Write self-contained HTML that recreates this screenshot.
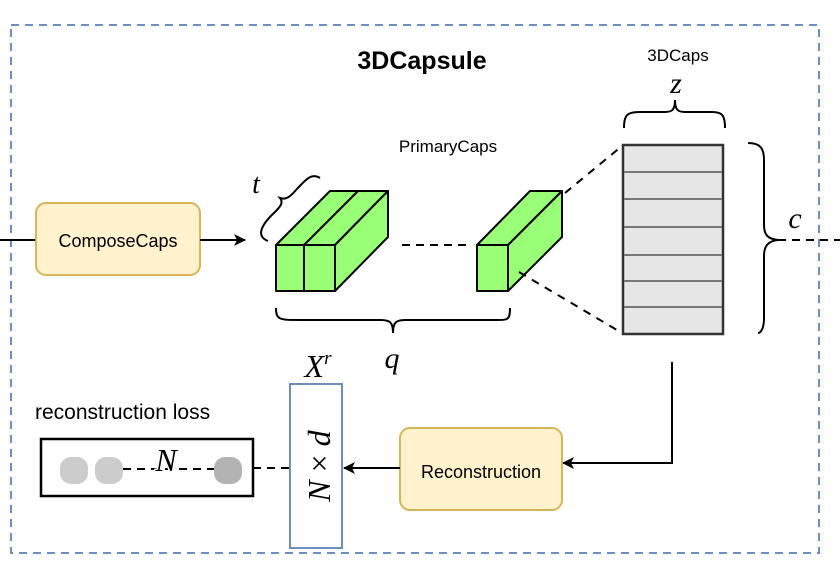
<!DOCTYPE html>
<html><head><style>body{margin:0;background:#fff}svg{display:block}</style></head><body>
<svg width="840" height="574" viewBox="0 0 840 574" xmlns="http://www.w3.org/2000/svg" font-family="Liberation Sans, sans-serif">
<defs><marker id="a" markerWidth="12" markerHeight="12" refX="11" refY="6" orient="auto" markerUnits="userSpaceOnUse"><path d="M0,0 L12,6 L0,12 L3,6 Z" fill="#000"/></marker></defs>
<rect x="11" y="25" width="808" height="528" fill="none" stroke="#6c8ebf" stroke-width="2" stroke-dasharray="8,6"/>
<text x="422" y="69" font-size="25" font-weight="bold" text-anchor="middle">3DCapsule</text>
<line x1="0" y1="240" x2="36" y2="240" stroke="#000" stroke-width="2"/>
<rect x="36" y="203" width="164" height="72" rx="10" fill="#fff2cc" stroke="#d6b656" stroke-width="2"/>
<text x="118" y="247" font-size="18" text-anchor="middle">ComposeCaps</text>
<line x1="200" y1="240" x2="245" y2="240" stroke="#000" stroke-width="2" marker-end="url(#a)"/>
<g fill="#99ff77" stroke="#000" stroke-width="2" stroke-linejoin="round">
<path d="M276,245 L330,191 L388,191 L335,245 Z"/>
<line x1="304" y1="245" x2="358" y2="191"/>
<path d="M335,245 L388,191 L388,237 L335,291 Z"/>
<rect x="276" y="245" width="28" height="46"/>
<rect x="304" y="245" width="31" height="46"/>
<path d="M477,245 L530,191 L562,191 L508,245 Z"/>
<path d="M508,245 L562,191 L562,237 L508,291 Z"/>
<rect x="477" y="245" width="31" height="46"/>
</g>
<line x1="402" y1="245" x2="470" y2="245" stroke="#000" stroke-width="2" stroke-dasharray="8,6"/>
<text x="448" y="152" font-size="17" text-anchor="middle">PrimaryCaps</text>
<path d="M268,241 C255,236 262,224 275,212 C282,205 283,202 280,198 C286,200 290,197 296,190 C307,178 312,173 320,178" fill="none" stroke="#000" stroke-width="2"/>
<text x="256" y="193" font-size="28" font-style="italic" font-family="Liberation Serif, serif" text-anchor="middle">t</text>
<path d="M276,308 C276,320 280,320 300,320 L380,320 C390,320 393,322 393,333 C393,322 396,320 406,320 L496,320 C508,320 510,320 510,308" fill="none" stroke="#000" stroke-width="2"/>
<text x="392" y="368" font-size="30" font-style="italic" font-family="Liberation Serif, serif" text-anchor="middle">q</text>
<line x1="565" y1="193" x2="622" y2="146" stroke="#000" stroke-width="2" stroke-dasharray="8,7"/>
<line x1="519" y1="272" x2="622" y2="333" stroke="#000" stroke-width="2" stroke-dasharray="8,7"/>
<rect x="623" y="145" width="100" height="189" fill="#e6e6e6" stroke="#333" stroke-width="2.5"/>
<g stroke="#777" stroke-width="2"><line x1="624" y1="172" x2="722" y2="172"/><line x1="624" y1="199" x2="722" y2="199"/><line x1="624" y1="227" x2="722" y2="227"/><line x1="624" y1="255" x2="722" y2="255"/><line x1="624" y1="281" x2="722" y2="281"/><line x1="624" y1="307" x2="722" y2="307"/></g>
<text x="678" y="61" font-size="17" text-anchor="middle">3DCaps</text>
<text x="676" y="93" font-size="30" font-style="italic" font-family="Liberation Serif, serif" text-anchor="middle">z</text>
<path d="M624,128 C624,115 627,112 640,112 L665,112 C672,112 675,110 675,100 C675,110 678,112 685,112 L712,112 C722,112 725,115 725,128" fill="none" stroke="#000" stroke-width="2"/>
<path d="M748,143 C760,143 764,148 764,160 L764,225 C764,235 768,239 778,240 C768,241 764,246 764,256 L764,318 C764,330 760,333 758,333" fill="none" stroke="#000" stroke-width="2"/>
<text x="795" y="228" font-size="30" font-style="italic" font-family="Liberation Serif, serif" text-anchor="middle">c</text>
<line x1="778" y1="240" x2="840" y2="240" stroke="#000" stroke-width="2" stroke-dasharray="8,6"/>
<path d="M672,362 L672,463 L563,463" fill="none" stroke="#000" stroke-width="2" marker-end="url(#a)"/>
<rect x="400" y="428" width="162" height="82" rx="10" fill="#fff2cc" stroke="#d6b656" stroke-width="2"/>
<text x="481" y="478" font-size="18" text-anchor="middle">Reconstruction</text>
<line x1="400" y1="468" x2="344" y2="468" stroke="#000" stroke-width="2" marker-end="url(#a)"/>
<rect x="290" y="384" width="52" height="164" fill="#fff" stroke="#6c8ebf" stroke-width="2"/>
<text transform="translate(330,466) rotate(-90)" font-size="32" font-style="italic" font-family="Liberation Serif, serif" text-anchor="middle">N<tspan font-style="normal"> × </tspan>d</text>
<text x="318" y="377" font-size="32" font-style="italic" font-family="Liberation Serif, serif" text-anchor="middle">X<tspan font-size="19" dy="-13">r</tspan></text>
<text x="35" y="419" font-size="21">reconstruction loss</text>
<rect x="41" y="439" width="212" height="57" fill="#fff" stroke="#000" stroke-width="2.5"/>
<rect x="60" y="457" width="28" height="27" rx="11" fill="#ccc"/>
<rect x="95" y="457" width="28" height="27" rx="11" fill="#ccc"/>
<rect x="214" y="457" width="28" height="27" rx="11" fill="#b3b3b3"/>
<line x1="123" y1="469" x2="214" y2="469" stroke="#000" stroke-width="2" stroke-dasharray="8,6"/>
<text x="166" y="471" font-size="32" font-style="italic" font-family="Liberation Serif, serif" text-anchor="middle" fill="#000" style="paint-order:stroke" stroke="#fff" stroke-width="3">N</text>
<line x1="253" y1="468" x2="290" y2="468" stroke="#000" stroke-width="2" stroke-dasharray="8,6"/>
</svg>
</body></html>
